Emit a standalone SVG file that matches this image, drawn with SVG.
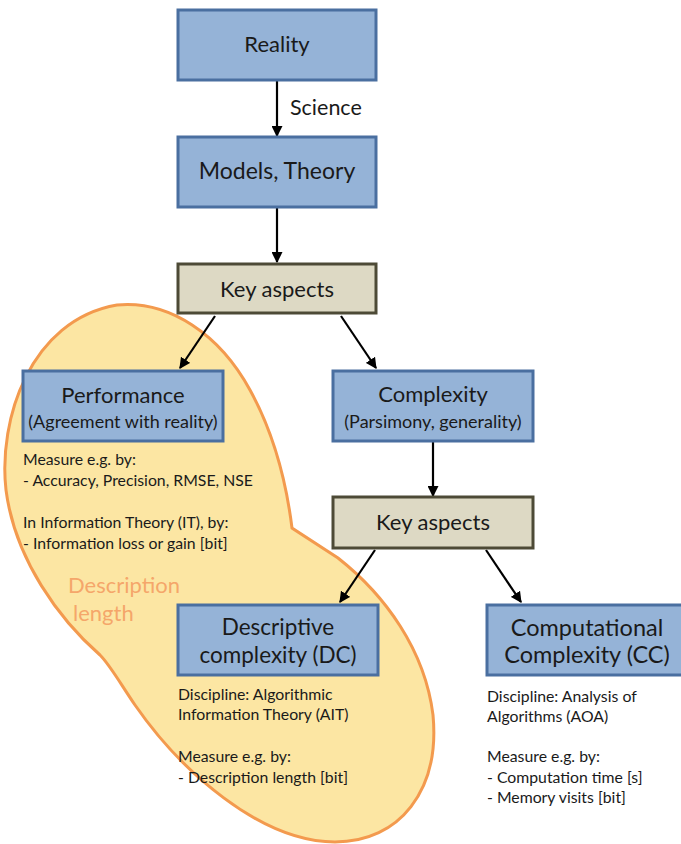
<svg xmlns="http://www.w3.org/2000/svg" width="681" height="844" viewBox="0 0 681 844">
<style>
.blue{fill:#95B3D7;stroke:#4A6FA0;stroke-width:3}
.tan{fill:#DDD9C4;stroke:#4D4A36;stroke-width:3}
text{font-family:Lato,"Liberation Sans",sans-serif;fill:#1a1a1a}
.big{font-size:22px;text-anchor:middle}
.mid{font-size:18px;text-anchor:middle}
.lg{font-size:22.5px;text-anchor:middle}
.sm{font-size:15.8px}
.conn line{stroke:#000;stroke-width:2.2;marker-end:url(#ah)}
</style>
<defs>
<marker id="ah" viewBox="0 0 10 10" refX="9" refY="5" markerWidth="5" markerHeight="5" orient="auto" markerUnits="strokeWidth">
<path d="M0,0 L10,5 L0,10 Z" fill="#000"/>
</marker>
</defs>
<rect width="681" height="844" fill="#fff"/>
<g id="description-length">
<path d="M117,305 C170,300 220,335 250,390 C272,430 286,480 292,528 L338,558 C385,595 425,650 433,715 C440,790 400,842 335,842 C260,842 180,770 135,705 C120,683 110,665 100,655 C60,620 15,560 6,490 C-2,420 30,320 117,305 Z" fill="#FCE6A3" stroke="#F39A4E" stroke-width="3"/>
<text x="68" y="593" style="font-size:22px;fill:#F5A66A">Description</text>
<text x="73" y="621" style="font-size:22px;fill:#F5A66A">length</text>
</g>
<g class="conn">
<line x1="277" y1="81" x2="277" y2="136"/>
<line x1="277" y1="208" x2="277" y2="262"/>
<line x1="215" y1="316" x2="180" y2="368"/>
<line x1="341" y1="316" x2="376" y2="368"/>
<line x1="433" y1="442" x2="433" y2="496"/>
<line x1="375" y1="550" x2="340" y2="602"/>
<line x1="486" y1="550" x2="521" y2="602"/>
</g>
<text x="290" y="115" style="font-size:21.5px">Science</text>
<g id="reality">
<rect class="blue" x="178" y="10" width="198" height="70"/>
<text class="big" x="277" y="52">Reality</text>
</g>
<g id="models">
<rect class="blue" x="178" y="137" width="198" height="70"/>
<text class="big" x="277" y="179" style="font-size:23px">Models, Theory</text>
</g>
<g id="key-aspects-1">
<rect class="tan" x="178" y="264" width="198" height="49"/>
<text class="big" x="277" y="297">Key aspects</text>
</g>
<g id="performance">
<rect class="blue" x="23" y="371" width="200" height="70"/>
<text class="big" x="123" y="403">Performance</text>
<text class="mid" x="123" y="428">(Agreement with reality)</text>
<text class="sm" x="23" y="465">Measure e.g. by:</text>
<text class="sm" x="23" y="486">- Accuracy, Precision, RMSE, NSE</text>
<text class="sm" x="23" y="528">In Information Theory (IT), by:</text>
<text class="sm" x="23" y="549">- Information loss or gain [bit]</text>
</g>
<g id="complexity">
<rect class="blue" x="333" y="371" width="200" height="70"/>
<text class="big" x="433" y="402">Complexity</text>
<text class="mid" x="433" y="428">(Parsimony, generality)</text>
</g>
<g id="key-aspects-2">
<rect class="tan" x="333" y="497" width="200" height="51"/>
<text class="big" x="433" y="530">Key aspects</text>
</g>
<g id="descriptive-complexity">
<rect class="blue" x="178" y="605" width="200" height="70"/>
<text class="lg" x="278" y="635">Descriptive</text>
<text class="lg" x="278" y="663">complexity (DC)</text>
<text class="sm" x="178" y="700">Discipline: Algorithmic</text>
<text class="sm" x="178" y="720">Information Theory (AIT)</text>
<text class="sm" x="178" y="762">Measure e.g. by:</text>
<text class="sm" x="178" y="783">- Description length [bit]</text>
</g>
<g id="computational-complexity">
<rect class="blue" x="487" y="605" width="200" height="70"/>
<text class="lg" x="587" y="636" style="font-size:23.5px">Computational</text>
<text class="lg" x="587" y="663" style="font-size:23.5px">Complexity (CC)</text>
<text class="sm" x="487" y="702">Discipline: Analysis of</text>
<text class="sm" x="487" y="722">Algorithms (AOA)</text>
<text class="sm" x="487" y="762">Measure e.g. by:</text>
<text class="sm" x="487" y="783">- Computation time [s]</text>
<text class="sm" x="487" y="803">- Memory visits [bit]</text>
</g>
</svg>
